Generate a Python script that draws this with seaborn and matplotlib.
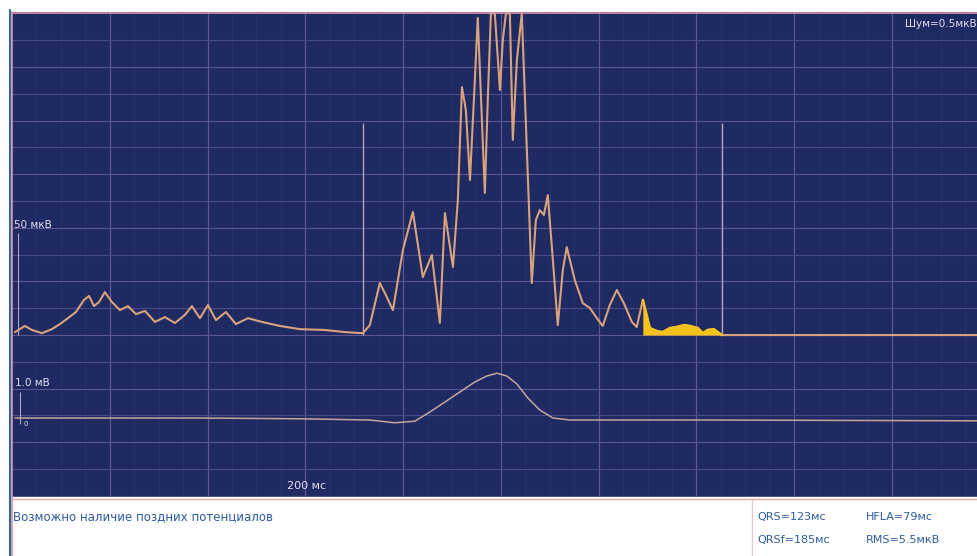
import numpy as np
import matplotlib.pyplot as plt
import seaborn as sns
from matplotlib.lines import Line2D

# filtered vector magnitude, time in ms, amplitude in uV
fvm_time = [1.5, 6.6, 10.2, 15.3, 20.4, 24.5, 28.6, 32.7, 36.8, 39.4, 41.9, 44.5, 47.5,
            51.1, 55.2, 59.3, 63.4, 68.0, 73.1, 78.2, 83.3, 88.4, 92.0, 96.1, 100.2,
            104.3, 109.4, 114.5, 120.7, 127.8, 137.0, 147.2, 160.0, 170.2, 179.4,
            183.0, 188.1, 191.2, 194.8, 199.9, 205.0, 210.1, 214.7, 218.8, 221.4,
            225.5, 228.0, 230.1, 232.1, 234.2, 236.2, 238.2, 240.3, 241.8, 243.3,
            244.9, 246.9, 248.5, 249.5, 251.0, 252.6, 254.6, 256.1, 258.2, 260.7,
            263.3, 265.8, 267.9, 269.9, 272.0, 274.0, 276.6, 279.1, 281.7, 283.7,
            287.8, 291.9, 295.5, 299.1, 302.1, 305.7, 309.3, 312.9, 317.0, 319.5,
            322.6, 326.2, 329.8, 332.8, 336.4, 339.9, 343.6, 346.6, 350.7, 353.3,
            355.8, 358.9, 363.0, 372.2, 493.9]
fvm_uv = [1.1, 3.4, 1.9, 0.7, 2.2, 4.1, 6.3, 8.6, 13.1, 14.6, 10.8, 12.3, 16.0,
          12.3, 9.3, 10.8, 7.8, 9.0, 4.9, 6.7, 4.5, 7.5, 10.8, 6.3, 11.2,
          5.6, 8.6, 4.1, 6.3, 4.9, 3.4, 2.2, 1.9, 1.1, 0.7,
          3.7, 19.4, 14.9, 9.3, 31.7, 45.9, 21.6, 29.9, 4.5, 45.5,
          25.4, 50.4, 92.5, 83.9, 57.8, 87.7, 118.3, 80.2, 53.0, 87.7,
          120.0, 120.0, 102.6, 91.4, 110.1, 120.0, 120.0, 72.8, 102.6, 120.0,
          69.0, 19.4, 42.9, 46.6, 44.8, 52.2, 28.0, 3.7, 24.3, 32.8,
          20.5, 11.9, 10.1, 6.3, 3.4, 11.2, 16.8, 11.9, 4.9, 3.0,
          13.1, 2.6, 1.5, 1.1, 2.6, 3.0, 3.7, 3.4, 2.6, 0.7,
          1.9, 2.2, 0.0, 0.0, 0.0]

# averaged unfiltered signal, mV
avg_time = [1.5, 45.0, 96.1, 147.2, 183.0, 195.8, 206.0, 213.7, 221.4, 229.0, 236.7,
            242.8, 248.0, 253.0, 258.2, 263.8, 269.9, 276.6, 285.3, 351.7, 493.9]
avg_mv = [0.0, 0.0, 0.0, -0.02, -0.05, -0.12, -0.08, 0.15, 0.40, 0.65, 0.90,
          1.05, 1.12, 1.05, 0.85, 0.50, 0.20, 0.0, -0.05, -0.05, -0.07]

qrs_on, qrs_off = 179.4, 363.0
las_start = 321.0
marker_height = 79.0

conclusion = "Возможно наличие поздних потенциалов"
params_left = ["QRS=123мс", "QRSf=185мс"]
params_right = ["HFLA=79мс", "RMS=5.5мкВ"]

bg = "#1f2a62"
grid_major = "#5c5692"
grid_minor = "#28346f"
grid_h = "#4a4a88"
trace_col = "#d9a27c"
avg_col = "#c8a59c"
las_col = "#f4c21c"
label_col = "#e6e0ee"
text_col = "#2d5c9e"

sns.set_theme(style="dark")
plt.rcParams['font.family'] = ['DejaVu Sans']

fig = plt.figure(figsize=(9.78, 5.56), dpi=100)
fig.patch.set_facecolor("white")
ax = fig.add_axes([12 / 978, 59 / 556, 966 / 978, 485 / 556])
ax.set_facecolor(bg)

ax.set_xlim(0, 494)
ax.set_ylim(-60.4, 120.5)

# grid: 50 ms vertical, 10 uV horizontal
for t in np.arange(12.5, 494, 12.5):
    if t % 50 != 0:
        ax.axvline(t, color=grid_minor, lw=0.6, zorder=0)
for t in np.arange(50, 494, 50):
    ax.axvline(t, color=grid_major, lw=0.9, zorder=0)
for v in np.arange(-60, 121, 10):
    ax.axhline(v, color=grid_major if v % 20 == 0 else grid_h, lw=0.8, zorder=0)

sns.lineplot(x=fvm_time, y=fvm_uv, ax=ax, color=trace_col, lw=1.5, zorder=3)

t_arr = np.array(fvm_time)
v_arr = np.array(fvm_uv)
m = (t_arr >= las_start - 1) & (t_arr <= qrs_off)
ax.fill_between(t_arr[m], v_arr[m], 0, color=las_col, lw=0, zorder=4)
ax.plot(t_arr[m], v_arr[m], color=las_col, lw=1.8, zorder=4)

ax.vlines([qrs_on, qrs_off], 0, marker_height, color="#b9a3b8", lw=1.0, zorder=2)

# scale bars
ax.vlines(3.0, 0, 38, color="#b9a3b8", lw=0.8)
ax.text(0.002, (41 + 60.4) / 180.9, "50 мкВ", transform=ax.transAxes, color=label_col,
        fontsize=7.5, va="center", ha="left")

ax2 = ax.twinx()
ax2.set_ylim(-1.975, 10.15)
sns.lineplot(x=avg_time, y=avg_mv, ax=ax2, color=avg_col, lw=1.1)
ax2.vlines(4.0, -0.15, 0.65, color="#b9a3b8", lw=0.8)
ax2.text(0.003, (0.88 + 1.975) / 12.125, "1.0 мВ", transform=ax2.transAxes, color=label_col,
         fontsize=7.5, va="center", ha="left")
ax2.text(0.012, (-0.15 + 1.975) / 12.125, "0", transform=ax2.transAxes, color=label_col,
         fontsize=5, va="center", ha="left")
ax2.set_ylabel("")
ax2.grid(False)

ax.text(0.285, 0.012, "200 мс", transform=ax.transAxes, color=label_col,
        fontsize=8, va="bottom", ha="left")
ax.text(0.999, 0.985, "Шум=0.5мкВ", transform=ax.transAxes, color=label_col,
        fontsize=7.5, va="top", ha="right")

for a in (ax, ax2):
    a.set_xticks([])
    a.set_yticks([])
    a.set_xlabel("")
    a.set_ylabel("")
    for s in a.spines.values():
        s.set_visible(False)

# borders
fig.add_artist(Line2D([12 / 978, 1], [1 - 13 / 556] * 2, color="#d98ea4", lw=1.2))
fig.add_artist(Line2D([12 / 978] * 2, [0, 1 - 12 / 556], color="#d98ea4", lw=1.2))
fig.add_artist(Line2D([10 / 978] * 2, [0, 1 - 10 / 556], color="#2e6b8c", lw=1.5))
fig.add_artist(Line2D([12 / 978, 1], [57 / 556] * 2, color="#e2a7b4", lw=1.0))
fig.add_artist(Line2D([752 / 978] * 2, [0, 56 / 556], color="#e6c9d0", lw=1.0))

fig.text(13 / 978, 1 - 517 / 556, conclusion, color=text_col, fontsize=8.5, va="center")
for i, (l, r) in enumerate(zip(params_left, params_right)):
    y = 1 - (517 + 23 * i) / 556
    fig.text(757 / 978, y, l, color=text_col, fontsize=8, va="center")
    fig.text(866 / 978, y, r, color=text_col, fontsize=8, va="center")

fig.savefig("out.png", dpi=100)
